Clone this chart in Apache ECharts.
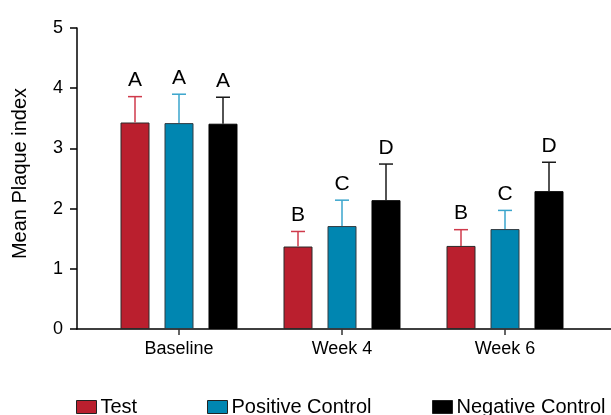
<!DOCTYPE html>
<html>
<head>
<meta charset="utf-8">
<script src="https://cdn.jsdelivr.net/npm/echarts@6/dist/echarts.min.js"></script>
<style>html,body{margin:0;padding:0;background:#fff;}#c{width:611px;height:415px;}</style>
</head>
<body>
<div id="c"></div>
<script>
const categories = ['Baseline', 'Week 4', 'Week 6'];
const seriesNames = ['Test', 'Positive Control', 'Negative Control'];
const testMean = [3.43, 1.37, 1.38];
const testSD = [0.43, 0.25, 0.27];
const posMean = [3.42, 1.71, 1.66];
const posSD = [0.48, 0.43, 0.31];
const negMean = [3.41, 2.14, 2.29];
const negSD = [0.44, 0.60, 0.48];
const testLetters = ['A', 'B', 'B'];
const posLetters = ['A', 'C', 'C'];
const negLetters = ['A', 'D', 'D'];
const yTicks = [0, 1, 2, 3, 4, 5];

const means = [testMean, posMean, negMean];
const sds = [testSD, posSD, negSD];
const letters = [testLetters, posLetters, negLetters];
const barColors = ['#ba1f2e', '#0086b1', '#000000'];
const borderColors = ['#2a2a2a', '#333b40', '#000000'];
const errColors = ['#cf3a4b', '#3aa5cc', '#1a1a1a'];
const FONT = 'Liberation Sans, Arial, sans-serif';
const BAR_W = 29, BAR_GAP = 15;

const chart = echarts.init(document.getElementById('c'), null, {renderer: 'canvas'});

const series = [];
for (let s = 0; s < 3; s++) {
  series.push({
    name: seriesNames[s], type: 'bar', xAxisIndex: 1, yAxisIndex: 1,
    barWidth: BAR_W, barGap: (BAR_GAP / BAR_W * 100).toFixed(1) + '%',
    data: means[s],
    itemStyle: {color: barColors[s], borderColor: borderColors[s], borderWidth: 1},
    emphasis: {disabled: true}, animation: false, z: 2
  });
}
for (let s = 0; s < 3; s++) {
  series.push({
    type: 'custom', xAxisIndex: 1, yAxisIndex: 1, animation: false, z: 3,
    silent: true,
    data: means[s].map((m, i) => [i, m, m + sds[s][i]]),
    renderItem: function (params, api) {
      const i = api.value(0);
      const off = (s - 1) * (BAR_W + BAR_GAP);
      const base = api.coord([i, api.value(1)]);
      const top = api.coord([i, api.value(2)]);
      const x = base[0] + off;
      const st = {stroke: errColors[s], lineWidth: 1.5};
      return {
        type: 'group',
        children: [
          {type: 'line', shape: {x1: x, y1: base[1], x2: x, y2: top[1]}, style: st},
          {type: 'line', shape: {x1: x - 7, y1: top[1], x2: x + 7, y2: top[1]}, style: st},
          {type: 'text', style: {text: letters[s][params.dataIndex], x: x, y: top[1] - 16,
            align: 'center', verticalAlign: 'middle', font: '21px ' + FONT, fill: '#000'}}
        ]
      };
    }
  });
}

const legendLefts = [76, 207, 432];
const legends = seriesNames.map((n, k) => ({
  data: [n], left: legendLefts[k], top: 397, padding: 0, itemWidth: 20, itemHeight: 13,
  icon: 'rect', selectedMode: false,
  itemStyle: {borderColor: '#222', borderWidth: 1},
  textStyle: {fontSize: 20, fontFamily: FONT, color: '#000', padding: [0, 0, 0, -1]}
}));

chart.setOption({
  animation: false,
  backgroundColor: '#fff',
  grid: [
    {left: 77, right: 0, top: 28, bottom: 86},
    {left: 97.5, right: 24.5, top: 28, bottom: 86}
  ],
  legend: legends,
  xAxis: [
    {type: 'value', gridIndex: 0, min: 0, max: 1, axisLine: {show: true, onZero: false, lineStyle: {color: '#000', width: 1.5}},
     axisTick: {show: false}, axisLabel: {show: false}, splitLine: {show: false}},
    {type: 'category', gridIndex: 1, data: categories,
     axisLine: {show: false}, axisTick: {show: true, alignWithLabel: true, length: 6, lineStyle: {color: '#333', width: 1.5}},
     axisLabel: {fontSize: 18, fontFamily: FONT, color: '#000', margin: 11}, splitLine: {show: false}}
  ],
  yAxis: [
    {type: 'value', gridIndex: 0, min: yTicks[0], max: yTicks[yTicks.length - 1], interval: 1,
     name: 'Mean Plaque index', nameLocation: 'middle', nameGap: 47,
     nameTextStyle: {fontSize: 20, fontFamily: FONT, color: '#000', padding: [0, 0, 0, 10]},
     axisLine: {show: true, lineStyle: {color: '#000', width: 1.5}},
     axisTick: {show: true, length: 7, lineStyle: {color: '#000', width: 1.5}},
     axisLabel: {fontSize: 18, fontFamily: FONT, color: '#000', margin: 14},
     splitLine: {show: false}},
    {type: 'value', gridIndex: 1, min: 0, max: 5, show: false, splitLine: {show: false}}
  ],
  series: series
});
</script>
</body>
</html>
